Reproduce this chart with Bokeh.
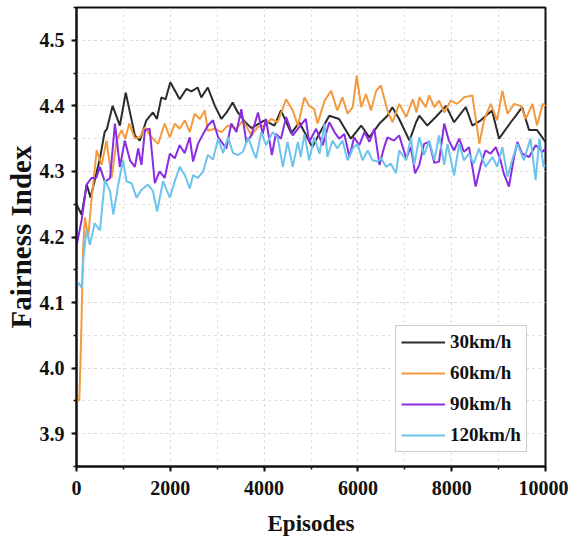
from bokeh.plotting import figure
from bokeh.models import Range1d, Legend, LegendItem, SingleIntervalTicker, PrintfTickFormatter
from bokeh.embed import file_html
from bokeh.resources import INLINE

series_names = ["30km/h", "60km/h", "90km/h", "120km/h"]
series_colors = ["#2b2b2b", "#f39a3e", "#8b2be2", "#6cc3ec"]

x_30 = [0, 110, 217, 300, 400, 500, 600, 650, 770, 925, 1050, 1140, 1245, 1350, 1490, 1630, 1715, 1810,
        1900, 2000, 2200, 2345, 2450, 2585, 2660, 2800, 2950, 3090, 3200, 3330, 3440, 3600, 3730, 3870,
        4010, 4220, 4360, 4580, 4750, 5030, 5180, 5390, 5600, 5850, 6070, 6245, 6460, 6630, 6735, 6880,
        7100, 7240, 7310, 7480, 7660, 7880, 8050, 8300, 8440, 8620, 8860, 9010, 9260, 9370, 9500, 9650,
        9820, 10000]
y_30 = [4.25, 4.234, 4.28, 4.26, 4.29, 4.32, 4.36, 4.365, 4.40, 4.37, 4.42, 4.39, 4.355, 4.347, 4.378,
        4.39, 4.38, 4.413, 4.41, 4.436, 4.41, 4.426, 4.422, 4.428, 4.413, 4.428, 4.40, 4.38, 4.39, 4.405,
        4.39, 4.375, 4.366, 4.372, 4.378, 4.37, 4.393, 4.358, 4.375, 4.337, 4.358, 4.385, 4.38, 4.35,
        4.37, 4.352, 4.373, 4.385, 4.398, 4.38, 4.347, 4.375, 4.385, 4.37, 4.383, 4.40, 4.375, 4.398,
        4.37, 4.378, 4.393, 4.35, 4.375, 4.385, 4.398, 4.363, 4.363, 4.345]

x_60 = [0, 60, 100, 140, 180, 250, 320, 430, 535, 640, 750, 855, 960, 1040, 1125, 1245, 1350, 1460,
        1600, 1740, 1880, 1990, 2095, 2200, 2310, 2415, 2520, 2630, 2735, 2800, 2950, 3090, 3230, 3410,
        3550, 3730, 3870, 4010, 4150, 4290, 4470, 4610, 4720, 4860, 4960, 5070, 5140, 5290, 5430, 5560,
        5670, 5780, 5890, 5975, 6070, 6170, 6280, 6390, 6490, 6630, 6740, 6880, 7030, 7170, 7250, 7310,
        7450, 7520, 7630, 7730, 7840, 7980, 8120, 8260, 8440, 8590, 8690, 8830, 8970, 9080, 9190, 9330,
        9470, 9580, 9720, 9820, 9940, 10000]
y_60 = [3.955, 3.95, 4.05, 4.18, 4.23, 4.20, 4.257, 4.332, 4.31, 4.347, 4.29, 4.347, 4.363, 4.35, 4.373,
        4.35, 4.352, 4.367, 4.352, 4.342, 4.373, 4.352, 4.373, 4.365, 4.378, 4.36, 4.388, 4.38, 4.393,
        4.362, 4.365, 4.36, 4.37, 4.365, 4.378, 4.355, 4.368, 4.37, 4.38, 4.375, 4.41, 4.393, 4.37, 4.413,
        4.40, 4.395, 4.373, 4.408, 4.423, 4.393, 4.413, 4.388, 4.398, 4.446, 4.398, 4.418, 4.393, 4.423,
        4.431, 4.393, 4.375, 4.403, 4.383, 4.41, 4.39, 4.413, 4.398, 4.416, 4.398, 4.408, 4.39, 4.408,
        4.403, 4.413, 4.416, 4.342, 4.378, 4.403, 4.378, 4.423, 4.388, 4.403, 4.40, 4.38, 4.403, 4.37,
        4.403, 4.40]

x_90 = [0, 110, 215, 320, 420, 500, 605, 715, 820, 925, 1030, 1140, 1245, 1315, 1385, 1460, 1560, 1670,
        1770, 1880, 1990, 2095, 2200, 2305, 2415, 2485, 2590, 2700, 2800, 2910, 3020, 3195, 3300, 3410,
        3515, 3620, 3730, 3870, 3970, 4040, 4165, 4250, 4360, 4470, 4610, 4720, 4890, 4960, 5110, 5250,
        5390, 5500, 5600, 5710, 5820, 5920, 6030, 6140, 6245, 6350, 6460, 6560, 6630, 6770, 6880, 7030,
        7130, 7220, 7310, 7410, 7520, 7630, 7730, 7840, 7940, 8050, 8160, 8260, 8370, 8510, 8620, 8720,
        8830, 8940, 9040, 9110, 9220, 9330, 9400, 9500, 9650, 9790, 9940, 10000]
y_90 = [4.186, 4.226, 4.28, 4.29, 4.29, 4.307, 4.284, 4.29, 4.373, 4.307, 4.347, 4.317, 4.307, 4.335,
        4.31, 4.363, 4.365, 4.282, 4.30, 4.29, 4.327, 4.32, 4.34, 4.328, 4.352, 4.315, 4.342, 4.357, 4.37,
        4.378, 4.352, 4.335, 4.373, 4.36, 4.395, 4.345, 4.355, 4.39, 4.357, 4.38, 4.325, 4.357, 4.35,
        4.383, 4.355, 4.365, 4.38, 4.345, 4.365, 4.34, 4.375, 4.36, 4.35, 4.357, 4.322, 4.352, 4.34, 4.36,
        4.345, 4.365, 4.31, 4.337, 4.352, 4.347, 4.355, 4.32, 4.337, 4.297, 4.31, 4.342, 4.345, 4.313,
        4.315, 4.373, 4.347, 4.332, 4.35, 4.33, 4.337, 4.277, 4.31, 4.332, 4.327, 4.337, 4.317, 4.297,
        4.277, 4.322, 4.345, 4.327, 4.322, 4.34, 4.33, 4.335]

x_120 = [0, 110, 150, 215, 285, 390, 500, 605, 715, 785, 890, 995, 1065, 1175, 1280, 1385, 1525, 1630,
         1720, 1845, 1990, 2095, 2200, 2305, 2415, 2485, 2590, 2700, 2800, 2910, 3020, 3125, 3230, 3340,
         3445, 3550, 3660, 3760, 3830, 3940, 4040, 4185, 4290, 4400, 4500, 4610, 4720, 4780, 4860, 4960,
         5070, 5180, 5290, 5350, 5460, 5560, 5670, 5780, 5890, 5990, 6100, 6210, 6310, 6420, 6500, 6600,
         6700, 6810, 6880, 7030, 7130, 7200, 7310, 7410, 7520, 7630, 7730, 7840, 7910, 8050, 8160, 8260,
         8370, 8470, 8580, 8720, 8870, 8970, 9080, 9190, 9300, 9400, 9540, 9680, 9790, 9870, 9960, 10000]
y_120 = [4.133, 4.123, 4.17, 4.211, 4.188, 4.221, 4.21, 4.287, 4.27, 4.234, 4.28, 4.317, 4.285, 4.282,
         4.26, 4.272, 4.28, 4.27, 4.239, 4.285, 4.26, 4.285, 4.307, 4.295, 4.274, 4.294, 4.29, 4.30, 4.325,
         4.318, 4.35, 4.328, 4.352, 4.328, 4.325, 4.33, 4.352, 4.332, 4.32, 4.36, 4.34, 4.36, 4.352, 4.307,
         4.345, 4.307, 4.345, 4.322, 4.357, 4.317, 4.352, 4.327, 4.373, 4.322, 4.347, 4.335, 4.347, 4.317,
         4.335, 4.342, 4.317, 4.332, 4.317, 4.315, 4.32, 4.307, 4.312, 4.297, 4.332, 4.317, 4.352, 4.31,
         4.352, 4.325, 4.347, 4.317, 4.355, 4.31, 4.342, 4.294, 4.342, 4.317, 4.327, 4.312, 4.335, 4.307,
         4.322, 4.307, 4.337, 4.292, 4.32, 4.342, 4.317, 4.35, 4.287, 4.35, 4.307, 4.31]

xs = [x_30, x_60, x_90, x_120]
ys = [y_30, y_60, y_90, y_120]

FONT = "'Liberation Serif', 'Times New Roman', serif"
INK = "#111111"

p = figure(width=568, height=544, output_backend="svg", toolbar_location=None,
           x_range=Range1d(0, 10000), y_range=Range1d(3.85, 4.55),
           min_border_left=76, min_border_right=23, min_border_top=7, min_border_bottom=78)

p.outline_line_color = INK
p.outline_line_width = 2
p.background_fill_color = "white"
p.border_fill_color = "white"

renderers = []
for x, y, c in zip(xs, ys, series_colors):
    r = p.line(x, y, line_color=c, line_width=2)
    renderers.append(r)

p.xaxis.ticker = SingleIntervalTicker(interval=2000, num_minor_ticks=2)
p.yaxis.ticker = SingleIntervalTicker(interval=0.1, num_minor_ticks=2)
p.yaxis.formatter = PrintfTickFormatter(format="%.1f")

for ax in (p.xaxis, p.yaxis):
    ax.axis_line_width = 2
    ax.axis_line_color = INK
    ax.major_tick_line_color = INK
    ax.minor_tick_line_color = INK
    ax.major_tick_line_width = 2
    ax.minor_tick_line_width = 1.5
    ax.major_tick_out = 5
    ax.major_tick_in = 0
    ax.minor_tick_out = 3
    ax.minor_tick_in = 0
    ax.major_label_text_font = FONT
    ax.major_label_text_font_style = "bold"
    ax.major_label_text_font_size = "20px"
    ax.major_label_text_color = INK
    ax.axis_label_text_font = FONT
    ax.axis_label_text_font_style = "bold"
    ax.axis_label_text_color = INK

p.xaxis.axis_label = "Episodes"
p.xaxis.axis_label_text_font_size = "23px"
p.xaxis.major_label_standoff = 9
p.xaxis.axis_label_standoff = 13

p.yaxis.axis_label = "Fairness Index"
p.yaxis.axis_label_text_font_size = "29px"
p.yaxis.major_label_standoff = 7
p.yaxis.axis_label_standoff = 0

for g in (p.xgrid, p.ygrid):
    g.grid_line_color = "#d4d4d4"
    g.grid_line_dash = "dotted"
    g.grid_line_width = 1
    g.minor_grid_line_color = "#d4d4d4"
    g.minor_grid_line_dash = "dotted"
    g.minor_grid_line_width = 1

legend = Legend(items=[LegendItem(label=n, renderers=[r]) for n, r in zip(series_names, renderers)],
                location=(319, 14))
legend.label_text_font = FONT
legend.label_text_font_style = "bold"
legend.label_text_font_size = "19px"
legend.label_text_color = INK
legend.glyph_width = 44
legend.glyph_height = 20
legend.label_height = 22
legend.label_standoff = 5
legend.spacing = 9
legend.padding = 5
legend.margin = 0
legend.border_line_color = "#999999"
legend.border_line_width = 1
legend.background_fill_alpha = 1
p.add_layout(legend, "center")

open("out.html", "w").write(file_html(p, INLINE))
